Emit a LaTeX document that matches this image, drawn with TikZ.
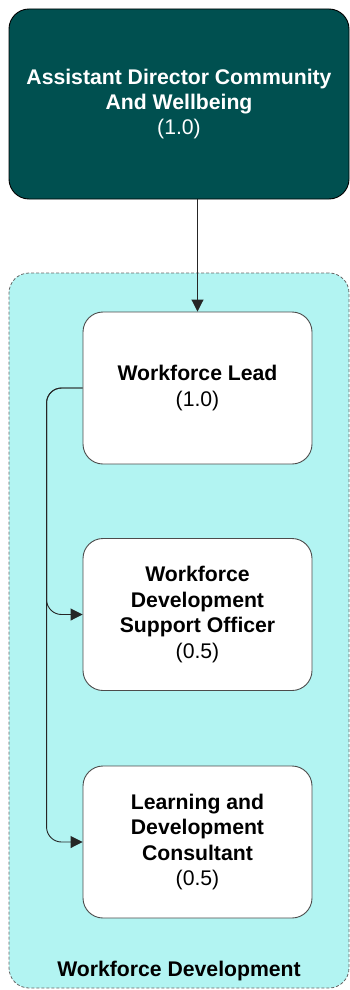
\documentclass[tikz,border=0pt]{standalone}
\usepackage{fontspec}
\setmainfont{Liberation Sans}
\usetikzlibrary{arrows.meta}

\definecolor{headteal}{RGB}{0,80,80}
\definecolor{teamcyan}{RGB}{178,244,242}

\begin{document}
\begin{tikzpicture}[
  x=1pt, y=-1pt,
  post/.style={draw=black!70, line width=0.9pt, fill=white, rounded corners=20pt,
    minimum width=229pt, minimum height=152pt, align=center,
    font=\fontsize{21.2}{25.5}\selectfont},
  head/.style={draw=black, line width=0.9pt, fill=headteal, text=white, rounded corners=20pt,
    minimum width=340pt, minimum height=190pt, align=center,
    font=\fontsize{21.2}{25}\selectfont},
  team/.style={draw=black!60, line width=0.8pt, dash pattern=on 3pt off 2pt, fill=teamcyan,
    rounded corners=20pt, minimum width=340pt, minimum height=715pt},
  link/.style={draw=black!85, line width=0.9pt, -{Triangle[length=12pt,width=12pt]}},
]
\useasboundingbox (0,0) rectangle (350,990);

\node [team] (wfdev) at (179,630.5) {};
\node [font=\fontsize{21.2}{25}\selectfont\bfseries] (wfdevlabel) at (179,971) {Workforce Development};

\node [head] (acd) at (179,104) {\textbf{Assistant Director Community}\\\textbf{And Wellbeing}\\(1.0)};

\node [post] (lead) at (197.5,388) {\textbf{Workforce Lead}\\(1.0)};
\node [post] (wdso) at (197.5,614.5) {\textbf{Workforce}\\\textbf{Development}\\\textbf{Support Officer}\\(0.5)};
\node [post] (ldc) at (197.5,842) {\textbf{Learning and}\\\textbf{Development}\\\textbf{Consultant}\\(0.5)};

\draw [link] (acd.south -| lead.north) -- (lead.north);
\draw [link, rounded corners=15pt] (lead.west) -- ++(-36,0) |- (wdso.west);
\draw [link, rounded corners=15pt] (lead.west) -- ++(-36,0) |- (ldc.west);

\end{tikzpicture}
\end{document}
